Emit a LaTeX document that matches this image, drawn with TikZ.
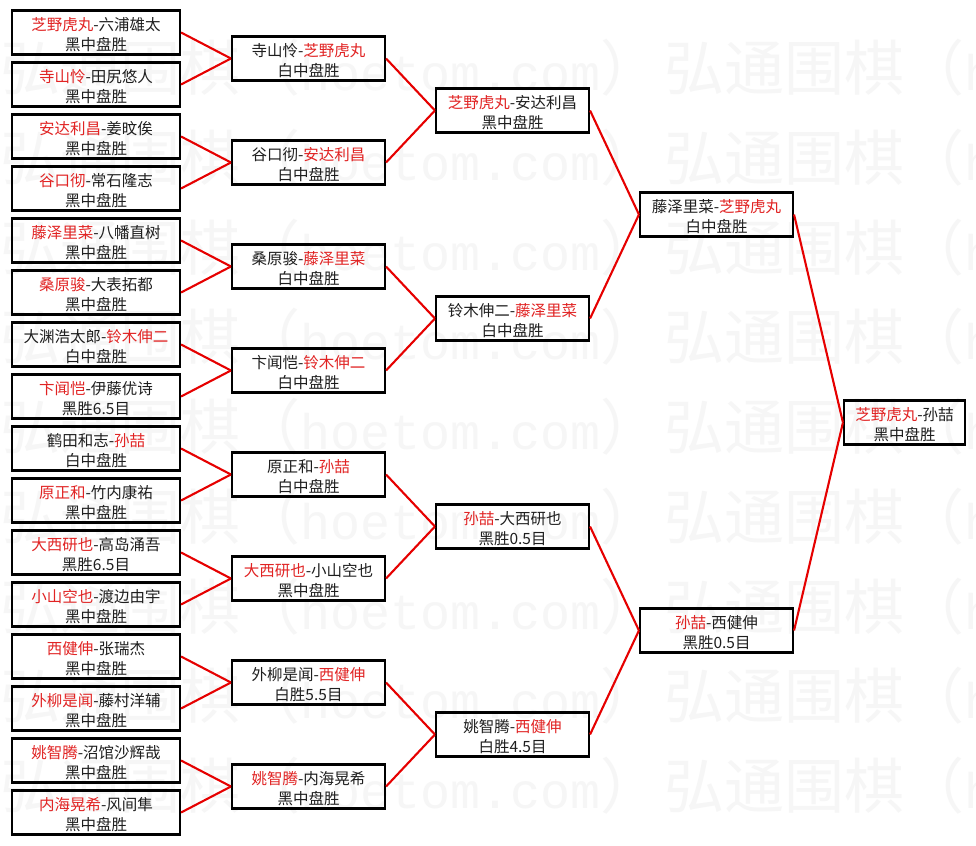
\documentclass[tikz,border=0pt]{standalone}
\usepackage{fontspec}
\setmainfont{Noto Sans CJK SC}
\newfontfamily\wmmono{Liberation Mono}
\definecolor{winred}{RGB}{225,35,35}
\definecolor{linkred}{RGB}{230,0,0}
\definecolor{wmgray}{RGB}{246,246,246}
\definecolor{txt}{RGB}{30,30,30}
\newcommand\W[1]{\textcolor{winred}{#1}}
\tikzset{
  gamebox/.style={draw=black, line width=2.1pt, inner sep=0pt, minimum height=44pt},
  rone/.style={gamebox, minimum width=168pt},
  rtwo/.style={gamebox, minimum width=153pt},
  rfin/.style={gamebox, minimum width=121pt},
  boxtext/.style={inner sep=0pt, align=center, font=\fontsize{15.5}{20}\selectfont, text=txt},
  link/.style={draw=linkred, line width=2.1pt},
  wmark/.style={text=wmgray, inner sep=0pt, anchor=west, font=\fontsize{60}{60}\selectfont}
}
\newcommand\G[4]{%
  \node[#1] (#2) at (#3) {};
  \node[boxtext] (#2t) at ([yshift=-2.5pt]#2.center) {#4};}
\begin{document}
\begin{tikzpicture}[x=1pt,y=-1pt]
\useasboundingbox (0,0) rectangle (976,845);
\fill[white] (0,0) rectangle (976,845);
\begin{scope}
\clip (0,0) rectangle (976,845);
\foreach \k in {0,...,8}{
  \node[wmark] (wmA\k) at (0,68+89.7*\k) {弘通围棋（{\wmmono\fontsize{50}{60}\selectfont hoetom.com}）};
  \node[wmark] (wmB\k) at (664,68+89.7*\k) {弘通围棋（{\wmmono\fontsize{50}{60}\selectfont hoetom.com}）};
}
\end{scope}
% round 1
\G{rone}{a1}{96,32.5}{\W{芝野虎丸}-六浦雄太\\黑中盘胜}
\G{rone}{a2}{96,84.5}{\W{寺山怜}-田尻悠人\\黑中盘胜}
\G{rone}{a3}{96,136.5}{\W{安达利昌}-姜旼俟\\黑中盘胜}
\G{rone}{a4}{96,188.5}{\W{谷口彻}-常石隆志\\黑中盘胜}
\G{rone}{a5}{96,240.5}{\W{藤泽里菜}-八幡直树\\黑中盘胜}
\G{rone}{a6}{96,292.5}{\W{桑原骏}-大表拓都\\黑中盘胜}
\G{rone}{a7}{96,344.5}{大渊浩太郎-\W{铃木伸二}\\白中盘胜}
\G{rone}{a8}{96,396.5}{\W{卞闻恺}-伊藤优诗\\黑胜6.5目}
\G{rone}{a9}{96,448.5}{鹤田和志-\W{孙喆}\\白中盘胜}
\G{rone}{a10}{96,500.5}{\W{原正和}-竹内康祐\\黑中盘胜}
\G{rone}{a11}{96,552.5}{\W{大西研也}-高岛涌吾\\黑胜6.5目}
\G{rone}{a12}{96,604.5}{\W{小山空也}-渡边由宇\\黑中盘胜}
\G{rone}{a13}{96,656.5}{\W{西健伸}-张瑞杰\\黑中盘胜}
\G{rone}{a14}{96,708.5}{\W{外柳是闻}-藤村洋辅\\黑中盘胜}
\G{rone}{a15}{96,760.5}{\W{姚智腾}-沼馆沙辉哉\\黑中盘胜}
\G{rone}{a16}{96,812.5}{\W{内海晃希}-风间隼\\黑中盘胜}
% round 2
\G{rtwo}{b1}{308.5,58.5}{寺山怜-\W{芝野虎丸}\\白中盘胜}
\G{rtwo}{b2}{308.5,162.5}{谷口彻-\W{安达利昌}\\白中盘胜}
\G{rtwo}{b3}{308.5,266.5}{桑原骏-\W{藤泽里菜}\\白中盘胜}
\G{rtwo}{b4}{308.5,370.5}{卞闻恺-\W{铃木伸二}\\白中盘胜}
\G{rtwo}{b5}{308.5,474.5}{原正和-\W{孙喆}\\白中盘胜}
\G{rtwo}{b6}{308.5,578.5}{\W{大西研也}-小山空也\\黑中盘胜}
\G{rtwo}{b7}{308.5,682.5}{外柳是闻-\W{西健伸}\\白胜5.5目}
\G{rtwo}{b8}{308.5,786.5}{\W{姚智腾}-内海晃希\\黑中盘胜}
% round 3
\G{rtwo}{c1}{512.5,110.5}{\W{芝野虎丸}-安达利昌\\黑中盘胜}
\G{rtwo}{c2}{512.5,318.5}{铃木伸二-\W{藤泽里菜}\\白中盘胜}
\G{rtwo}{c3}{512.5,526.5}{\W{孙喆}-大西研也\\黑胜0.5目}
\G{rtwo}{c4}{512.5,734.5}{姚智腾-\W{西健伸}\\白胜4.5目}
% round 4
\G{rtwo}{d1}{716.5,214.5}{藤泽里菜-\W{芝野虎丸}\\白中盘胜}
\G{rtwo}{d2}{716.5,630.5}{\W{孙喆}-西健伸\\黑胜0.5目}
% final
\G{rfin}{f}{904.5,422.5}{\W{芝野虎丸}-孙喆\\黑中盘胜}
% connectors
\foreach \j in {1,...,8}{
  \pgfmathtruncatemacro\p{2*\j-1}
  \pgfmathtruncatemacro\q{2*\j}
  \draw[link] (a\p.east) -- (b\j.west);
  \draw[link] (a\q.east) -- (b\j.west);
}
\foreach \j in {1,...,4}{
  \pgfmathtruncatemacro\p{2*\j-1}
  \pgfmathtruncatemacro\q{2*\j}
  \draw[link] (b\p.east) -- (c\j.west);
  \draw[link] (b\q.east) -- (c\j.west);
}
\foreach \j in {1,2}{
  \pgfmathtruncatemacro\p{2*\j-1}
  \pgfmathtruncatemacro\q{2*\j}
  \draw[link] (c\p.east) -- (d\j.west);
  \draw[link] (c\q.east) -- (d\j.west);
}
\draw[link] (d1.east) -- (f.west);
\draw[link] (d2.east) -- (f.west);
\end{tikzpicture}
\end{document}
